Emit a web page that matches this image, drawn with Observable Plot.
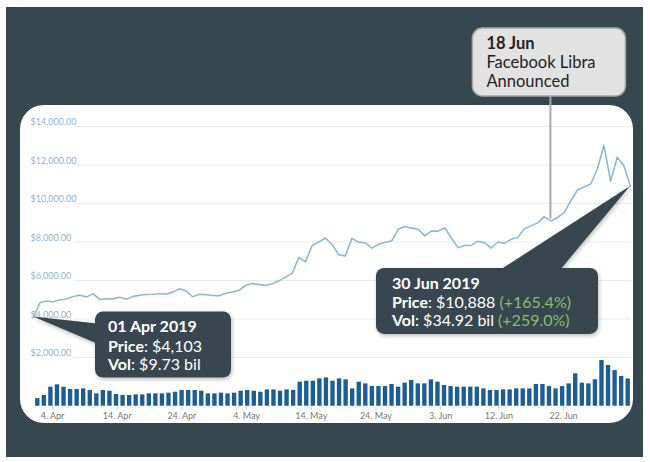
<!DOCTYPE html>
<html><head><meta charset="utf-8">
<script src="https://cdn.jsdelivr.net/npm/d3@7"></script>
<script src="https://cdn.jsdelivr.net/npm/@observablehq/plot@0.6"></script>
<style>
html,body{margin:0;padding:0;background:#fff;}
#wrap{position:relative;width:650px;height:462px;overflow:hidden;font-family:Lato,"Open Sans",sans-serif;}
#dark{position:absolute;left:6px;top:7px;width:637px;height:450px;background:#37474f;}
#panel{position:absolute;left:20px;top:105px;width:613px;height:318px;background:#fff;border-radius:24px;}
.layer{position:absolute;left:0;top:0;}
</style></head><body>
<div id="wrap"><div id="dark"></div><div id="panel"></div></div>
<script>
// ---- data ----
const startDate = "2019-04-01";
const priceApr = [4103,4857,4932,4899,5004,5043,5170,5236,5150,5308,5017,5048,5045,5131,5024,5174,5236,5273,5285,5326,5285,5396,5568,5452,5155,5280,5265,5222,5212,5342];
const priceMay = [5399,5492,5753,5841,5785,5745,5829,5982,6174,6378,7204,6972,7814,7994,8205,7884,7343,7271,8197,7978,7963,7680,7881,7987,8052,8673,8805,8719,8659,8319,8574];
const priceJun = [8564,8742,8208,7707,7824,7822,8043,7954,7688,8000,7927,8145,8230,8693,8838,8994,9320,9082,9273,9527,10144,10701,10855,11011,11790,13017,11162,12407,11959,10888];
const volApr = [9.73,13.7,24.4,27.4,24.4,21.4,21.4,22.2,20.1,15.8,20.1,19.2,15.0,13.7,13.7,14.5,14.5,15.8,15.8,15.8,16.7,17.9,20.1,20.1,20.1,19.2,15.8,15.8,16.7,15.8];
const volMay = [16.7,19.2,20.1,19.2,17.9,20.9,20.9,19.2,20.9,20.1,30.8,32.0,32.0,35.0,36.3,32.0,35.0,33.8,22.2,30.8,28.6,25.2,25.2,25.2,27.8,24.4,29.5,32.9,28.6,28.6,33.8];
const volJun = [30.8,26.5,25.2,24.4,24.4,24.4,24.4,22.2,20.1,20.1,20.9,20.9,22.2,22.2,22.2,27.8,27.8,25.2,22.2,25.2,28.6,41.5,29.5,28.6,33.8,58.5,52.1,45.7,38.0,34.92];
const yTicks = [2000,4000,6000,8000,10000,12000,14000];
const xTickDates = ["2019-04-04","2019-04-14","2019-04-24","2019-05-04","2019-05-14","2019-05-24","2019-06-03","2019-06-12","2019-06-22"];
const xTickLabels = ["4. Apr","14. Apr","24. Apr","4. May","14. May","24. May","3. Jun","12. Jun","22. Jun"];
const calloutStart = {date:"2019-04-01", title:"01 Apr 2019", price:"$4,103", vol:"$9.73 bil"};
const calloutEnd = {date:"2019-06-30", title:"30 Jun 2019", price:"$10,888", priceChg:"(+165.4%)", vol:"$34.92 bil", volChg:"(+259.0%)"};
const calloutEvent = {date:"2019-06-18", title:"18 Jun", lines:["Facebook Libra","Announced"]};

// ---- build table ----
const prices = [...priceApr, ...priceMay, ...priceJun];
const vols = [...volApr, ...volMay, ...volJun];
const d0 = new Date(startDate + "T00:00:00Z");
const days = d3.utcDay.range(d0, d3.utcDay.offset(d0, prices.length));
const data = days.map((d,i)=>({date:d, price:prices[i], vol:vols[i]}));
const W = 650, H = 462;
const FONT = 'Lato, "Open Sans", sans-serif';
const wrap = document.getElementById("wrap");

// volume bars
const volPlot = Plot.plot({
  width:W, height:H, margin:0,
  style:{background:"transparent"},
  x:{type:"utc", domain:[days[0], d3.utcDay.offset(days[days.length-1],1)], range:[34,631], axis:null},
  y:{domain:[0,100], range:[405.7,327.7], axis:null},
  marks:[Plot.rectY(data,{x:"date", interval:"day", y:"vol", fill:"#1c5d96", insetLeft:1.1, insetRight:1.1})]
});
volPlot.classList.add("layer"); wrap.appendChild(volPlot);

// price line + y axis
const pricePlot = Plot.plot({
  width:W, height:H, marginLeft:74, marginRight:19, marginTop:100, marginBottom:56,
  style:{background:"transparent", fontFamily:FONT, fontSize:"9px"},
  x:{type:"utc", domain:[days[0], days[days.length-1]], range:[33,630], axis:null},
  y:{domain:[0,14000], range:[395.5,126]},
  marks:[
    Plot.ruleY(yTicks,{stroke:"#ebebeb", strokeWidth:1}),
    Plot.axisY(yTicks,{tickSize:0, tickPadding:0, textAnchor:"start", dx:-44, dy:-4, label:null,
      tickFormat:d=>"$"+d3.format(",.2f")(d), fill:"#8fb6d4", fontSize:9}),
    Plot.lineY(data,{x:"date", y:"price", stroke:"#8ebad9", strokeWidth:1.6})
  ]
});
pricePlot.classList.add("layer"); wrap.appendChild(pricePlot);

// x axis
const labelMap = new Map(xTickDates.map((d,i)=>[+new Date(d+"T00:00:00Z"), xTickLabels[i]]));
const axisPlot = Plot.plot({
  width:W, height:H, marginTop:0, marginBottom:56, marginLeft:0, marginRight:0,
  style:{background:"transparent", fontFamily:FONT, fontSize:"9px"},
  x:{type:"utc", domain:[days[0], days[days.length-1]], range:[32.6,614.8]},
  y:{axis:null},
  marks:[Plot.axisX(xTickDates.map(d=>new Date(d+"T00:00:00Z")),{tickSize:4, tickPadding:2, stroke:"#ccd6e0", fill:"#777", fontSize:9, label:null, tickFormat:d=>labelMap.get(+d)})]
});
axisPlot.classList.add("layer"); wrap.appendChild(axisPlot);

// ---- annotations anchored with the price plot's scales ----
const sx = pricePlot.scale("x"), sy = pricePlot.scale("y");
const byDate = new Map(data.map(d=>[+d.date, d]));
function anchor(c){ const d = byDate.get(+new Date(c.date+"T00:00:00Z")); return [sx.apply(d.date), sy.apply(d.price)]; }

const svg = d3.select(wrap).append("svg").attr("class","layer").attr("width",W).attr("height",H)
  .style("font-family",FONT);
const defs = svg.append("defs");
const f = defs.append("filter").attr("id","sh").attr("x","-20%").attr("y","-20%").attr("width","140%").attr("height","150%");
f.append("feDropShadow").attr("dx",1).attr("dy",2).attr("stdDeviation",2).attr("flood-color","#000").attr("flood-opacity",0.25);
const DARK = "#37474f", GREEN = "#86bf6a";

function darkBox(x,y,w,h,wedge,p){
  const g = svg.append("g").attr("filter","url(#sh)");
  g.append("polygon").attr("points",[p,...wedge].map(q=>q.join(",")).join(" ")).attr("fill",DARK);
  g.append("rect").attr("x",x).attr("y",y).attr("width",w).attr("height",h).attr("rx",8).attr("fill",DARK);
  return svg.append("g").attr("transform",`translate(${x},${y})`).attr("fill","#fff").attr("font-size",16);
}
function statLine(g, y, x, label, value, chg){
  const t = g.append("text").attr("x",x).attr("y",y);
  t.append("tspan").attr("font-weight","bold").text(label);
  t.append("tspan").text(": "+value);
  if (chg) t.append("tspan").attr("fill",GREEN).text(" "+chg);
}

// start callout
{
  const p = anchor(calloutStart);
  const bx = p[0]+62, by = p[1]-5, bw = 136, bh = 66;
  const g = darkBox(bx,by,bw,bh,[[bx+2,by+12],[bx+2,by+32]],p);
  g.append("text").attr("x",13).attr("y",20.5).attr("font-weight","bold").text(calloutStart.title);
  statLine(g,40,13,"Price",calloutStart.price);
  statLine(g,58.5,13,"Vol",calloutStart.vol);
}
// end callout
{
  const p = anchor(calloutEnd);
  const bx = p[0]-254, by = p[1]+82, bw = 222, bh = 66;
  const g = darkBox(bx,by,bw,bh,[[bx+124,by+2],[bx+184,by+2]],p);
  g.append("text").attr("x",16).attr("y",21).attr("font-weight","bold").text(calloutEnd.title);
  statLine(g,40,16,"Price",calloutEnd.price,calloutEnd.priceChg);
  statLine(g,58,16,"Vol",calloutEnd.vol,calloutEnd.volChg);
}
// event callout
{
  const p = anchor(calloutEvent);
  const bx = p[0]-78, by = 28, bw = 153, bh = 68;
  svg.append("line").attr("x1",p[0]).attr("x2",p[0]).attr("y1",by+bh).attr("y2",p[1]-2).attr("stroke","#a9a9a9").attr("stroke-width",2);
  svg.append("rect").attr("x",bx).attr("y",by).attr("width",bw).attr("height",bh).attr("rx",10)
    .attr("fill","#e2e2e2").attr("stroke","#a6a6a6").attr("stroke-width",1.5);
  const g = svg.append("g").attr("transform",`translate(${bx},${by})`).attr("fill","#222").attr("font-size",16.5);
  g.append("text").attr("x",14).attr("y",21).attr("font-weight","bold").text(calloutEvent.title);
  calloutEvent.lines.forEach((l,i)=>g.append("text").attr("x",14).attr("y",40+i*19).text(l));
}
</script>
</body></html>
